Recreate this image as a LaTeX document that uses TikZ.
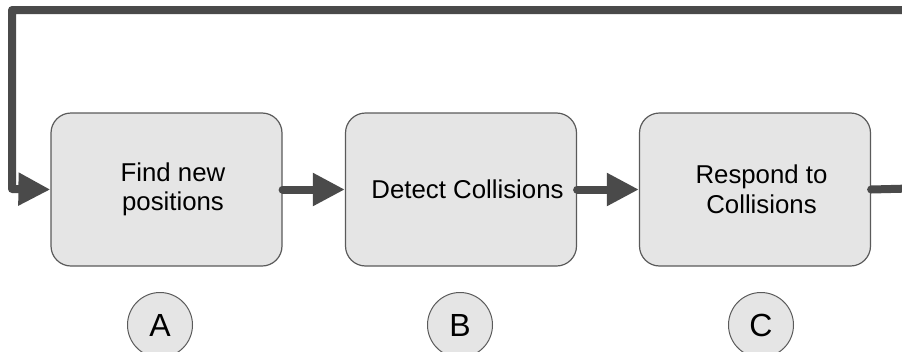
\documentclass[tikz,border=0pt]{standalone}
\usepackage{fontspec}
\setmainfont{Liberation Sans}
\usetikzlibrary{arrows.meta}
\definecolor{boxfill}{HTML}{E5E5E5}
\definecolor{boxline}{HTML}{5A5A5A}
\definecolor{flowcol}{HTML}{4A4A4A}
\tikzset{
  stage/.style={draw=boxline, line width=1.2pt, fill=boxfill, rounded corners=20pt,
    minimum width=231pt, minimum height=153pt, inner sep=0pt},
  stagetext/.style={align=center, inner sep=0pt, xshift=6.5pt,
    font=\fontsize{25.8}{29.5}\selectfont},
  tag/.style={draw=boxline, line width=1pt, fill=boxfill, circle, minimum size=65pt,
    inner sep=0pt, font=\fontsize{32}{34}\selectfont},
  flow/.style={draw=flowcol, line width=8pt, line cap=round, line join=round,
    -{Triangle[length=32pt,width=31pt]}},
}
\begin{document}
\begin{tikzpicture}[x=1pt,y=-1pt]
  \useasboundingbox (0,0) rectangle (902,351);
  \clip (0,0) rectangle (902,351);
  \node[stage, label={[stagetext]center:Find new\\positions}] (A) at (166.5,189.5) {};
  \node[stage, label={[stagetext]center:Detect Collisions}] (B) at (461,189.5) {};
  \node[stage, label={[stagetext]center:Respond to\\Collisions}] (C) at (755,189.5) {};
  \node[tag] (ta) at (160,325) {A};
  \node[tag] (tb) at (460,325) {B};
  \node[tag] (tc) at (761,325) {C};
  \coordinate (r1) at (930,188);
  \coordinate (r2) at (930,10);
  \coordinate (l1) at (12,10);
  \coordinate (l2) at (12,189);
  \draw[flow] (A.east) -- (B.west);
  \draw[flow] (B.east) -- (C.west);
  \draw[flow] (C.east) -- (r1) -- (r2) -- (l1) -- (l2) -- (A.west);
\end{tikzpicture}
\end{document}
